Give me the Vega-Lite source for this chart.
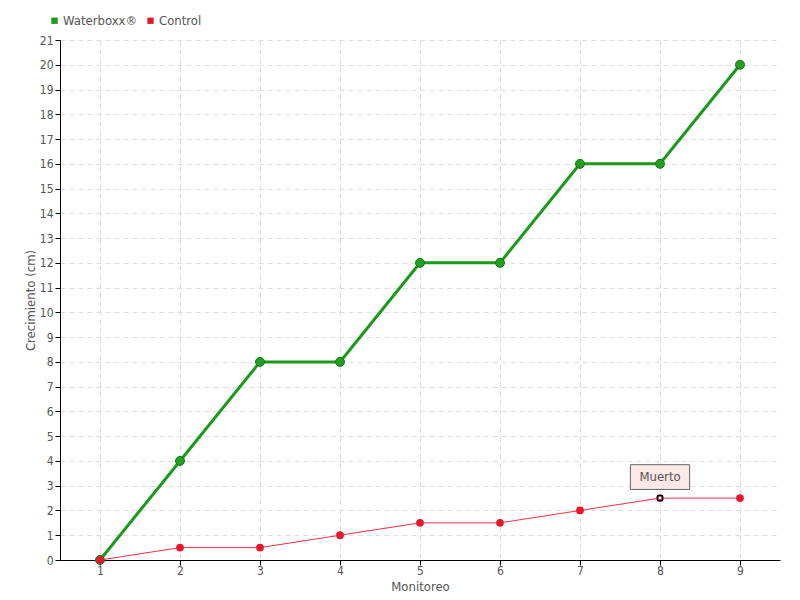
{
  "$schema": "https://vega.github.io/schema/vega-lite/v6.json",
  "width": 720,
  "height": 520,
  "autosize": "none",
  "padding": {"left": 60, "top": 40, "right": 20, "bottom": 40},
  "background": "white",
  "config": {
    "font": "DejaVu Sans Condensed",
    "view": {"stroke": null},
    "axis": {
      "labelFont": "DejaVu Sans Condensed",
      "titleFont": "DejaVu Sans Condensed",
      "labelColor": "#555555",
      "titleColor": "#555555",
      "labelFontSize": 12,
      "titleFontSize": 13,
      "titleFontWeight": "normal",
      "domainColor": "black",
      "tickColor": "black",
      "gridColor": "#dddddd",
      "gridDash": [5, 4],
      "labelOverlap": false
    }
  },
  "datasets": {
    "series": [
      {"monitoreo": 1, "valor": 0, "serie": "Waterboxx®"},
      {"monitoreo": 2, "valor": 4, "serie": "Waterboxx®"},
      {"monitoreo": 3, "valor": 8, "serie": "Waterboxx®"},
      {"monitoreo": 4, "valor": 8, "serie": "Waterboxx®"},
      {"monitoreo": 5, "valor": 12, "serie": "Waterboxx®"},
      {"monitoreo": 6, "valor": 12, "serie": "Waterboxx®"},
      {"monitoreo": 7, "valor": 16, "serie": "Waterboxx®"},
      {"monitoreo": 8, "valor": 16, "serie": "Waterboxx®"},
      {"monitoreo": 9, "valor": 20, "serie": "Waterboxx®"},
      {"monitoreo": 1, "valor": 0, "serie": "Control"},
      {"monitoreo": 2, "valor": 0.5, "serie": "Control"},
      {"monitoreo": 3, "valor": 0.5, "serie": "Control"},
      {"monitoreo": 4, "valor": 1, "serie": "Control"},
      {"monitoreo": 5, "valor": 1.5, "serie": "Control"},
      {"monitoreo": 6, "valor": 1.5, "serie": "Control"},
      {"monitoreo": 7, "valor": 2, "serie": "Control"},
      {"monitoreo": 8, "valor": 2.5, "serie": "Control"},
      {"monitoreo": 9, "valor": 2.5, "serie": "Control"}
    ],
    "nota": [
      {"monitoreo": 8, "valor": 2.5, "x1": 7.63, "x2": 8.37, "y1": 2.85, "y2": 3.85, "ym": 3.35, "texto": "Muerto"}
    ]
  },
  "encoding": {
    "x": {"field": "monitoreo", "type": "quantitative", "scale": {"domain": [0.5, 9.5], "nice": false, "zero": false},
          "axis": {"values": [1,2,3,4,5,6,7,8,9], "format": "d", "title": "Monitoreo", "titlePadding": 4, "tickSize": 5, "labelPadding": 0}},
    "y": {"field": "valor", "type": "quantitative", "scale": {"domain": [0, 21], "nice": false},
          "axis": {"values": [0,1,2,3,4,5,6,7,8,9,10,11,12,13,14,15,16,17,18,19,20,21], "format": "d", "title": "Crecimiento (cm)", "tickSize": 5, "labelPadding": 2, "titlePadding": 2}}
  },
  "layer": [
    {
      "data": {"name": "series"},
      "transform": [{"filter": "datum.serie === 'Waterboxx®'"}],
      "mark": {"type": "line", "color": "#1a9a1a", "strokeWidth": 3}
    },
    {
      "data": {"name": "series"},
      "transform": [{"filter": "datum.serie === 'Waterboxx®'"}],
      "mark": {"type": "point", "filled": true, "color": "#22a022", "stroke": "#157015", "strokeWidth": 1, "size": 80, "opacity": 1}
    },
    {
      "data": {"name": "series"},
      "transform": [{"filter": "datum.serie === 'Control'"}],
      "mark": {"type": "line", "color": "#f03040", "strokeWidth": 1}
    },
    {
      "data": {"name": "series"},
      "transform": [{"filter": "datum.serie === 'Control'"}],
      "mark": {"type": "point", "filled": true, "color": "#e8182c", "size": 60, "opacity": 1},
      "encoding": {
        "color": {"field": "serie", "type": "nominal",
                  "scale": {"domain": ["Waterboxx®", "Control"], "range": ["#1a9a1a", "#e8182c"]},
                  "legend": {"orient": "none", "legendX": -12, "legendY": -26, "direction": "horizontal", "title": null,
                             "symbolType": "square", "symbolSize": 40, "labelFontSize": 13, "labelColor": "#555555",
                             "labelFont": "DejaVu Sans Condensed", "columnPadding": 6, "labelOffset": 2}}
      }
    },
    {
      "data": {"name": "nota"},
      "mark": {"type": "point", "shape": "square", "filled": true, "color": "white", "stroke": "black", "strokeWidth": 1.5, "size": 20, "opacity": 1}
    },
    {
      "data": {"name": "nota"},
      "mark": {"type": "rect", "fill": "#fde8e8", "stroke": "#666666", "strokeWidth": 1},
      "encoding": {
        "x": {"field": "x1", "type": "quantitative"},
        "x2": {"field": "x2"},
        "y": {"field": "y1", "type": "quantitative"},
        "y2": {"field": "y2"}
      }
    },
    {
      "data": {"name": "nota"},
      "mark": {"type": "text", "fontSize": 13, "color": "#555555", "font": "DejaVu Sans Condensed"},
      "encoding": {
        "y": {"field": "ym", "type": "quantitative"},
        "text": {"field": "texto"}
      }
    }
  ]
}
